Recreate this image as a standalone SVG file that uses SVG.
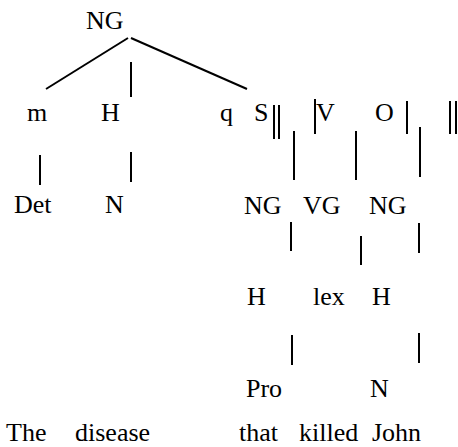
<svg xmlns="http://www.w3.org/2000/svg" width="458" height="447" viewBox="0 0 458 447">
<style>
text{font-family:"Liberation Serif","Times New Roman",serif;font-size:26px;fill:#000}
line{stroke:#000;stroke-width:2}
</style>
<rect width="458" height="447" fill="#fff"/>
<g id="connectors">
<line x1="128" y1="38" x2="46" y2="89"/>
<line x1="131" y1="38" x2="247" y2="89"/>
<line x1="131" y1="62" x2="131" y2="97"/>
<line x1="40" y1="155" x2="40" y2="185"/>
<line x1="131" y1="152" x2="131" y2="182"/>
<line x1="274" y1="105" x2="274" y2="139"/>
<line x1="279" y1="105" x2="279" y2="139"/>
<line x1="315" y1="99" x2="315" y2="134"/>
<line x1="407" y1="101" x2="407" y2="134"/>
<line x1="420" y1="127" x2="420" y2="177"/>
<line x1="450" y1="101" x2="450" y2="134"/>
<line x1="456" y1="101" x2="456" y2="134"/>
<line x1="294" y1="131" x2="294" y2="180"/>
<line x1="356" y1="131" x2="356" y2="180"/>
<line x1="291" y1="222" x2="291" y2="251"/>
<line x1="361" y1="236" x2="361" y2="265"/>
<line x1="419" y1="223" x2="419" y2="253"/>
<line x1="292" y1="335" x2="292" y2="365"/>
<line x1="419" y1="333" x2="419" y2="363"/>
</g>
<g id="n-NG"><text x="86" y="29">NG</text></g>
<g id="n-m"><text x="27" y="121">m</text></g>
<g id="n-H"><text x="101" y="121">H</text></g>
<g id="n-q"><text x="220" y="121">q</text></g>
<g id="n-S"><text x="254" y="121">S</text></g>
<g id="n-V"><text x="316" y="121">V</text></g>
<g id="n-O"><text x="375" y="121">O</text></g>
<g id="n-Det"><text x="14" y="213">Det</text></g>
<g id="n-N"><text x="105" y="213">N</text></g>
<g id="n-NG2"><text x="244" y="214">NG</text></g>
<g id="n-VG"><text x="303" y="214">VG</text></g>
<g id="n-NG3"><text x="369" y="214">NG</text></g>
<g id="n-H2"><text x="247" y="305">H</text></g>
<g id="n-lex"><text x="313" y="305">lex</text></g>
<g id="n-H3"><text x="372" y="305">H</text></g>
<g id="n-Pro"><text x="246" y="397">Pro</text></g>
<g id="n-N2"><text x="370" y="397">N</text></g>
<g id="words">
<text x="6" y="441">The</text>
<text x="75" y="441">disease</text>
<text x="239" y="441">that</text>
<text x="299" y="441">killed</text>
<text x="372" y="441">John</text>
</g>
</svg>
